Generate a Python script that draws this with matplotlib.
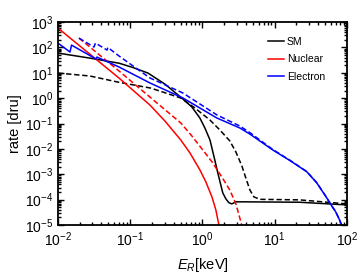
import numpy as np
import matplotlib
matplotlib.use("Agg")
import matplotlib.pyplot as plt
from matplotlib.ticker import LogLocator, NullFormatter

plt.rcParams['font.family'] = ['Liberation Sans', 'DejaVu Sans']
plt.rcParams['mathtext.fontset'] = 'custom'
plt.rcParams['mathtext.rm'] = 'Liberation Sans'
plt.rcParams['mathtext.it'] = 'Liberation Sans:italic'

# ---- data (E in keV, rate in dru) ----
sm_E = [0.01, 0.0277, 0.070, 0.109, 0.176, 0.302, 0.536, 0.713, 0.92, 1.08, 1.27, 1.48, 1.63,
        1.91, 2.11, 2.32, 2.55, 2.9, 3.86, 22, 100]
sm_R = [60, 38, 24, 16.2, 9.8, 3.6, 0.93, 0.45, 0.166, 0.067, 0.0226, 3.7e-3, 1.14e-3,
        1.85e-4, 1.07e-4, 7.6e-5, 6.8e-5, 8.2e-5, 8.2e-5, 7.9e-5, 6.2e-5]

smd_E = [0.01, 0.0277, 0.068, 0.193, 0.50, 0.785, 1.265, 1.74, 2.39, 2.90, 3.51, 3.98, 4.53,
         5.14, 6.22, 22.1, 100]
smd_R = [9.8, 7.5, 4.3, 2.5, 1.02, 0.411, 0.139, 0.056, 0.0207, 7.6e-3, 2.14e-3, 7.2e-4, 2.43e-4,
         1.29e-4, 1.03e-4, 9.8e-5, 6.8e-5]

nuc_E = [0.01, 0.0277, 0.070, 0.187, 0.302, 0.50, 0.670, 0.92, 1.114, 1.35, 1.53, 1.69, 1.8]
nuc_R = [580, 54, 6.2, 0.54, 0.126, 0.0226, 6.97e-3, 1.5e-3, 5.0e-4, 1.3e-4, 4.0e-5, 1e-5, 2e-6]

nucd_E = [0.0195, 0.070, 0.187, 0.50, 0.713, 1.01, 1.39, 1.85, 2.39, 2.90, 3.5, 3.74]
nucd_R = [234, 11.8, 1.11, 0.106, 0.0325, 9.1e-3, 2.8e-3, 7.9e-4, 2.4e-4, 6.8e-5, 1e-5, 3e-6]

el_E = [0.01, 0.01466, 0.01538, 0.0336, 0.0346, 0.070, 0.187, 0.536, 1.58, 3.29, 4.5, 9.4,
        16.2, 27.8, 38.2, 52.5, 59, 70, 79, 87]
el_R = [149, 66, 124, 35, 42, 17, 4.0, 1.02, 0.166, 0.067, 0.039, 9.1e-3,
        3.5e-3, 1.26e-3, 4.6e-4, 1.18e-4, 6.8e-5, 3.3e-5, 1.6e-5, 8e-6]

eld_E = [0.0195, 0.0315, 0.0330, 0.0477, 0.0490, 0.070, 0.187, 0.536, 1.58, 3.29, 4.5, 9.4,
         16.2, 27.8, 38.2, 52.5, 59, 70, 79, 87]
eld_R = [234, 104, 149, 79, 100, 46, 6.3, 1.6, 0.22, 0.080, 0.0446, 9.5e-3,
         3.6e-3, 1.28e-3, 4.7e-4, 1.2e-4, 6.9e-5, 3.3e-5, 1.6e-5, 8e-6]

labels = ['SM', 'Nuclear', 'Electron']
colors = ['black', 'red', 'blue']

fig = plt.figure(figsize=(3.61, 2.73), dpi=100)
ax = fig.add_axes([0.1607, 0.1758, 0.8003, 0.7432])

lw = 1.1
dash = (0, (3.5, 1.8))
h1, = ax.plot(sm_E, sm_R, color=colors[0], lw=lw)
ax.plot(smd_E, smd_R, color=colors[0], lw=lw, linestyle=dash)
h2, = ax.plot(nuc_E, nuc_R, color=colors[1], lw=lw)
ax.plot(nucd_E, nucd_R, color=colors[1], lw=lw, linestyle=dash)
h3, = ax.plot(el_E, el_R, color=colors[2], lw=lw)
ax.plot(eld_E, eld_R, color=colors[2], lw=lw, linestyle=dash)

ax.set_xscale('log')
ax.set_yscale('log')
ax.set_xlim(1e-2, 1e2)
ax.set_ylim(1e-5, 1e3)

ax.xaxis.set_major_locator(LogLocator(base=10, numticks=20))
ax.yaxis.set_major_locator(LogLocator(base=10, numticks=20))
ax.xaxis.set_minor_locator(LogLocator(base=10, subs=np.arange(2, 10), numticks=100))
ax.yaxis.set_minor_locator(LogLocator(base=10, subs=np.arange(2, 10), numticks=100))
ax.xaxis.set_minor_formatter(NullFormatter())
ax.yaxis.set_minor_formatter(NullFormatter())

ax.tick_params(which='both', direction='in', top=True, right=True, labelsize=10, width=1.0)
ax.tick_params(which='major', length=4)
ax.tick_params(which='minor', length=2)
ax.tick_params(axis='x', which='major', pad=4)
for s in ax.spines.values():
    s.set_linewidth(1.3)

ax.set_xlabel('$E_R$[keV]', fontsize=10.5, labelpad=5)
ax.set_ylabel('rate [dru]', fontsize=10.5, labelpad=2)

fig.legend([h1, h2, h3], labels, loc='upper left', bbox_to_anchor=(268 / 361, 1 - 37 / 273),
           frameon=False, fontsize=7.5, handlelength=1.5, handletextpad=0.3,
           labelspacing=0.7, borderpad=0, borderaxespad=0)

fig.savefig('out.png', dpi=100)
